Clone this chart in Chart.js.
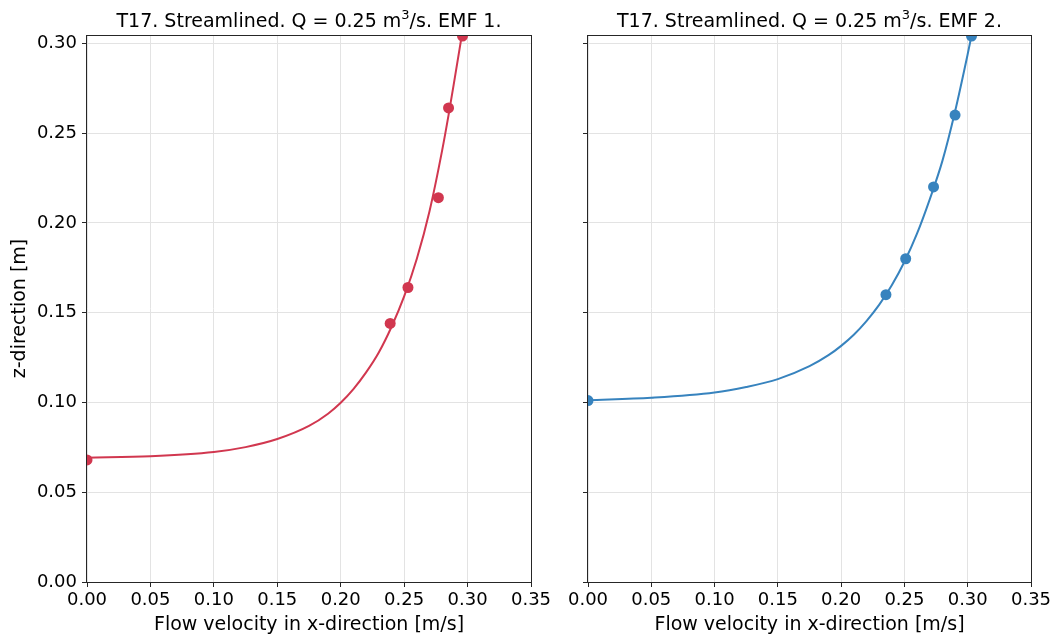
<!DOCTYPE html>
<html>
<head>
<meta charset="utf-8">
<title>T17. Streamlined. EMF 1 and 2</title>
<script src="https://cdn.jsdelivr.net/npm/chart.js@4.4.1/dist/chart.umd.min.js"></script>
<style>
    html, body { margin: 0; padding: 0; background: #fff; }
    #wrap { position: relative; width: 1056px; height: 636px; overflow: hidden; }
    #wrap canvas { position: absolute; top: 0; }
</style>
</head>
<body>
<div id="wrap">
    <canvas id="emf1" width="550" height="636" style="left:0"></canvas>
    <canvas id="emf2" width="506" height="636" style="left:550px"></canvas>
</div>
<script>
"use strict";

// tick positions (labels are printed with two decimals)
const xTicks = [0, 0.05, 0.1, 0.15, 0.2, 0.25, 0.3, 0.35];
const zTicks = [0, 0.05, 0.1, 0.15, 0.2, 0.25, 0.3];
const zTop = 0.3046;

// EMF 1 measurements and fitted profile
const emf1PointX = [0, 0.239, 0.253, 0.277, 0.285, 0.296];
const emf1PointZ = [0.068, 0.144, 0.164, 0.214, 0.264, 0.304];
const emf1CurveX = [0, 0.05, 0.10, 0.125, 0.15, 0.175, 0.19, 0.20, 0.21, 0.22, 0.23, 0.24, 0.25, 0.26, 0.27, 0.28, 0.285, 0.29, 0.2955];
const emf1CurveZ = [0.0692, 0.0700, 0.0724, 0.0751, 0.0796, 0.0869, 0.0937, 0.0998, 0.1074, 0.1167, 0.1278, 0.1420, 0.1590, 0.1800, 0.2065, 0.2405, 0.2600, 0.2810, 0.3046];

// EMF 2 measurements and fitted profile
const emf2PointX = [0, 0.2354, 0.251, 0.273, 0.290, 0.303];
const emf2PointZ = [0.101, 0.160, 0.180, 0.220, 0.260, 0.304];
const emf2CurveX = [0, 0.05, 0.10, 0.125, 0.15, 0.175, 0.19, 0.20, 0.21, 0.22, 0.23, 0.24, 0.25, 0.26, 0.27, 0.28, 0.29, 0.30, 0.3031];
const emf2CurveZ = [0.1012, 0.1026, 0.1055, 0.1086, 0.1130, 0.1202, 0.1263, 0.1315, 0.1377, 0.1453, 0.1543, 0.1652, 0.1783, 0.1941, 0.2131, 0.2345, 0.2620, 0.2940, 0.3046];

const FONT = "'DejaVu Sans', sans-serif";
Chart.defaults.font.family = FONT;
Chart.defaults.color = "#000";

// box round the plot area
const frame = {
    id: "frame",
    afterDatasetsDraw(chart) {
        const a = chart.chartArea;
        const ctx = chart.ctx;
        ctx.save();
        ctx.strokeStyle = "#262626";
        ctx.lineWidth = 1;
        ctx.strokeRect(Math.round(a.left) - 0.5, Math.round(a.top) + 0.5, Math.round(a.right - a.left) + 1, Math.round(a.bottom - a.top));
        ctx.restore();
    }
};

// title centred over the plot area, with a raised "3" in m3/s
const heading = {
    id: "heading",
    afterDraw(chart, args, opts) {
        const ctx = chart.ctx;
        const a = chart.chartArea;
        const big = "19px " + FONT;
        const small = "13px " + FONT;
        ctx.save();
        ctx.fillStyle = "#000";
        ctx.textBaseline = "alphabetic";
        ctx.font = big;
        const w1 = ctx.measureText(opts.before).width;
        const w3 = ctx.measureText(opts.after).width;
        ctx.font = small;
        const w2 = ctx.measureText(opts.sup).width;
        let x = (a.left + a.right) / 2 - (w1 + w2 + w3) / 2;
        const y = 27;
        ctx.font = big;
        ctx.fillText(opts.before, x, y);
        x += w1;
        ctx.font = small;
        ctx.fillText(opts.sup, x, y - 8);
        x += w2;
        ctx.font = big;
        ctx.fillText(opts.after, x, y);
        ctx.restore();
    }
};

const toXY = (xs, zs) => xs.map((x, i) => ({ x: x, y: zs[i] }));

function makePanel(id, emf, pointX, pointZ, curveX, curveZ, colour, axisWidth, showZ, padRight) {
    const ctx = document.getElementById(id).getContext("2d");
    return new Chart(ctx, {
        type: "scatter",
        data: {
            datasets: [
                {
                    data: toXY(pointX, pointZ),
                    backgroundColor: colour,
                    borderWidth: 0,
                    pointRadius: 5.5,
                    clip: 0
                },
                {
                    data: toXY(curveX, curveZ),
                    showLine: true,
                    borderColor: colour,
                    borderWidth: 2,
                    pointRadius: 0,
                    cubicInterpolationMode: "monotone",
                    clip: 0
                }
            ]
        },
        options: {
            responsive: false,
            animation: false,
            events: [],
            layout: { padding: { left: 0, right: padRight, top: 35, bottom: 0 } },
            plugins: {
                legend: { display: false },
                tooltip: { enabled: false },
                title: { display: false },
                heading: { before: "T17. Streamlined. Q = 0.25 m", sup: "3", after: "/s. EMF " + emf + "." }
            },
            scales: {
                x: {
                    type: "linear",
                    min: 0,
                    max: 0.35,
                    afterBuildTicks: (s) => { s.ticks = xTicks.map((v) => ({ value: v })); },
                    afterFit: (s) => { s.height = 54; s.paddingLeft = 0; s.paddingRight = 0; },
                    ticks: { callback: (v) => v.toFixed(2), font: { size: 18 }, padding: 3, maxRotation: 0, autoSkip: false },
                    grid: { color: "#e3e3e3", tickColor: "#262626", tickLength: 5 },
                    border: { display: false },
                    title: { display: true, text: "Flow velocity in x-direction [m/s]", font: { size: 19 }, padding: { top: 0, bottom: 0 } }
                },
                y: {
                    type: "linear",
                    min: 0,
                    max: zTop,
                    afterBuildTicks: (s) => { s.ticks = zTicks.map((v) => ({ value: v })); },
                    afterFit: (s) => { s.width = axisWidth; s.paddingTop = 0; s.paddingBottom = 0; },
                    ticks: { display: showZ, callback: (v) => v.toFixed(2), font: { size: 18 }, padding: 5, autoSkip: false },
                    grid: { color: "#e3e3e3", tickColor: "#262626", tickLength: 5 },
                    border: { display: false },
                    title: { display: showZ, text: "z-direction [m]", font: { size: 19 }, padding: { top: 9, bottom: 0 } }
                }
            }
        },
        plugins: [frame, heading]
    });
}

document.addEventListener("DOMContentLoaded", () => {
    makePanel("emf1", "1", emf1PointX, emf1PointZ, emf1CurveX, emf1CurveZ, "#d1374f", 87, true, 19);
    makePanel("emf2", "2", emf2PointX, emf2PointZ, emf2CurveX, emf2CurveZ, "#3783be", 38, false, 25);
});
</script>
</body>
</html>
